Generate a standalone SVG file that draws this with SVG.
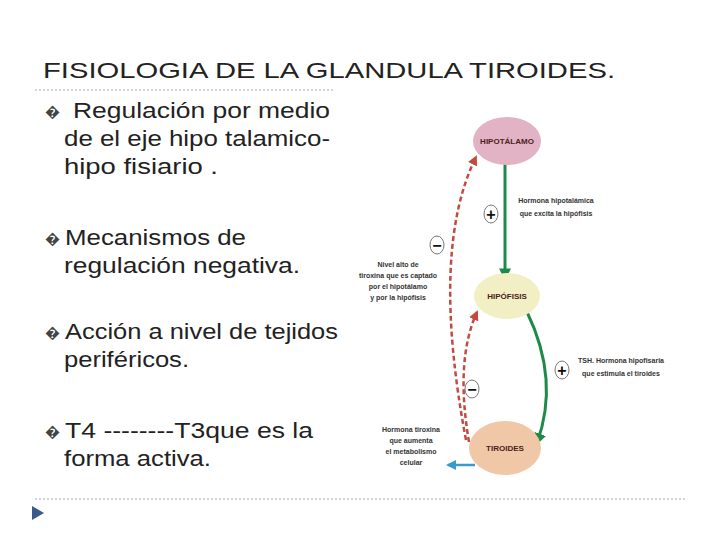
<svg xmlns="http://www.w3.org/2000/svg" width="720" height="540" viewBox="0 0 720 540">
<style>
.t{font-family:"Liberation Sans",Arial,sans-serif;font-size:22px;fill:#222}
.b{font-family:"Liberation Sans",Arial,sans-serif;font-size:15px;fill:#444}
.s{font-family:"Liberation Sans",Arial,sans-serif;font-size:7px;fill:#333;font-weight:bold;text-anchor:middle}
.n{font-family:"Liberation Sans",Arial,sans-serif;font-size:8px;fill:#4a2020;font-weight:bold;text-anchor:middle}
.g{stroke:#1e8a4a;stroke-width:3;fill:none}
.r{stroke:#c24a3e;stroke-width:2.5;fill:none;stroke-dasharray:5 3}
.sg{font-family:"Liberation Sans",Arial,sans-serif;font-size:16px;font-weight:bold;text-anchor:middle;fill:#111}
</style>
<defs>
<marker id="ag" viewBox="0 0 10 10" refX="8" refY="5" markerWidth="4" markerHeight="4" orient="auto"><path d="M0,0L10,5L0,10z" fill="#1e8a4a"/></marker>
<marker id="ar" viewBox="0 0 10 10" refX="8" refY="5" markerWidth="4" markerHeight="4" orient="auto"><path d="M0,0L10,5L0,10z" fill="#c24a3e"/></marker>
<marker id="ab" viewBox="0 0 10 10" refX="8" refY="5" markerWidth="4" markerHeight="4" orient="auto"><path d="M0,0L10,5L0,10z" fill="#3a9ad0"/></marker>
</defs>
<rect width="720" height="540" fill="#fff"/>
<text class="t" x="43" y="78" textLength="572" lengthAdjust="spacingAndGlyphs">FISIOLOGIA DE LA GLANDULA TIROIDES.</text>
<line x1="35" y1="90" x2="335" y2="90" stroke="#aaa" stroke-dasharray="2 2"/>
<line x1="35" y1="499" x2="685" y2="499" stroke="#aaa" stroke-dasharray="2 2"/>
<path d="M32,506L44,513L32,520z" fill="#3b5a8a"/>
<g id="texts">
<text class="b" x="45" y="117">�</text>
<text class="t" x="73" y="118" textLength="257" lengthAdjust="spacingAndGlyphs">Regulación por medio</text>
<text class="t" x="64" y="146" textLength="266" lengthAdjust="spacingAndGlyphs">de el eje hipo talamico-</text>
<text class="t" x="64" y="174" textLength="154" lengthAdjust="spacingAndGlyphs">hipo fisiario .</text>
<text class="b" x="45" y="244">�</text>
<text class="t" x="65" y="245" textLength="181" lengthAdjust="spacingAndGlyphs">Mecanismos de</text>
<text class="t" x="64" y="273" textLength="236" lengthAdjust="spacingAndGlyphs">regulación negativa.</text>
<text class="b" x="45" y="338">�</text>
<text class="t" x="65" y="339" textLength="273" lengthAdjust="spacingAndGlyphs">Acción a nivel de tejidos</text>
<text class="t" x="64" y="367" textLength="125" lengthAdjust="spacingAndGlyphs">periféricos.</text>
<text class="b" x="45" y="437">�</text>
<text class="t" x="65" y="438" textLength="248" lengthAdjust="spacingAndGlyphs">T4 --------T3que  es la</text>
<text class="t" x="64" y="466" textLength="147" lengthAdjust="spacingAndGlyphs">forma activa.</text>
</g>
<g id="connectors">
<line class="g" x1="505" y1="156" x2="505" y2="278" marker-end="url(#ag)"/>
<path class="g" d="M527,312 Q560,380 537,443" marker-end="url(#ag)"/>
<path class="r" d="M466,440 Q430,250 476,157" marker-end="url(#ar)"/>
<path class="r" d="M469,442 Q455,360 477,312" marker-end="url(#ar)"/>
<line x1="475" y1="465" x2="448" y2="465" stroke="#3a9ad0" stroke-width="2.5" marker-end="url(#ab)"/>
</g>
<g id="hipotalamo"><ellipse cx="507" cy="141" rx="34" ry="24" fill="#e2b3c4"/><text class="n" x="507" y="144">HIPOTÁLAMO</text></g>
<g id="hipofisis"><ellipse cx="507" cy="296" rx="33" ry="23" fill="#f2efc4"/><text class="n" x="507" y="299">HIPÓFISIS</text></g>
<g id="tiroides"><ellipse cx="505" cy="448" rx="36" ry="27" fill="#f0c8a8"/><text class="n" x="505" y="451">TIROIDES</text></g>
<g id="signs">
<ellipse cx="491" cy="214" rx="7" ry="9" fill="#fff" stroke="#777"/><text class="sg" x="491" y="220">+</text>
<ellipse cx="437" cy="245" rx="7" ry="9" fill="#fff" stroke="#777"/><text class="sg" x="437" y="251">−</text>
<ellipse cx="562" cy="370" rx="7" ry="9" fill="#fff" stroke="#777"/><text class="sg" x="562" y="376">+</text>
<ellipse cx="472" cy="389" rx="7" ry="9" fill="#fff" stroke="#777"/><text class="sg" x="472" y="395">−</text>
</g>
<g id="labels">
<text class="s" x="556" y="203">Hormona hipotalámica</text>
<text class="s" x="556" y="216">que excita la hipófisis</text>
<text class="s" x="398" y="267">Nivel alto de</text>
<text class="s" x="398" y="278">tiroxina que es captado</text>
<text class="s" x="398" y="289">por el hipotálamo</text>
<text class="s" x="398" y="300">y por la hipófisis</text>
<text class="s" x="621" y="363">TSH. Hormona hipofisaria</text>
<text class="s" x="621" y="376">que estimula el tiroides</text>
<text class="s" x="411" y="432">Hormona tiroxina</text>
<text class="s" x="411" y="443">que aumenta</text>
<text class="s" x="411" y="454">el metabolismo</text>
<text class="s" x="411" y="465">celular</text>
</g>
</svg>
